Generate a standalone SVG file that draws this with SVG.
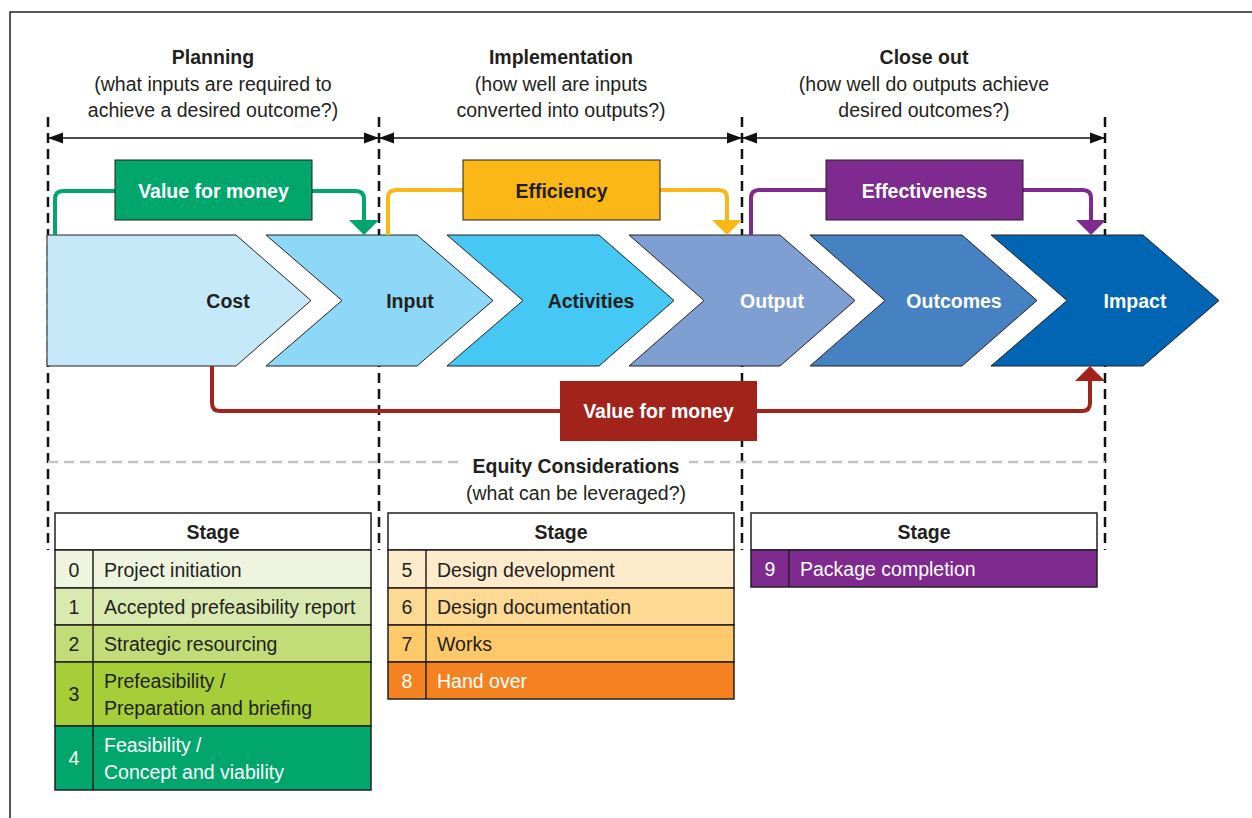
<svg xmlns="http://www.w3.org/2000/svg" width="1252" height="818" viewBox="0 0 1252 818">
<style>
text{font-family:"Liberation Sans",Arial,sans-serif;fill:#231f20}
.t{font-size:19.5px;text-anchor:middle}
.b{font-weight:bold;font-size:19.5px;text-anchor:middle}
.w{fill:#fff}
.cell{font-size:19.5px}
.num{font-size:19.5px;text-anchor:middle}
.vd{stroke:#111;stroke-width:2.5;stroke-dasharray:10 6;fill:none}
.chev{stroke:#231f20;stroke-width:1}
.row{stroke:#231f20;stroke-width:1.5}
.conn{fill:none;stroke-width:4}
</style>
<defs>
<marker id="ah" markerUnits="userSpaceOnUse" markerWidth="16" markerHeight="12" refX="15" refY="6" orient="auto-start-reverse"><path d="M0,0.5 L15,6 L0,11.5 z" fill="#111"/></marker>
<marker id="mg" markerUnits="userSpaceOnUse" markerWidth="16" markerHeight="30" refX="2" refY="15" orient="auto"><path d="M0,0 L15,15 L0,30 z" fill="#00a66c"/></marker>
<marker id="my" markerUnits="userSpaceOnUse" markerWidth="16" markerHeight="30" refX="2" refY="15" orient="auto"><path d="M0,0 L15,15 L0,30 z" fill="#fbb715"/></marker>
<marker id="mp" markerUnits="userSpaceOnUse" markerWidth="16" markerHeight="30" refX="2" refY="15" orient="auto"><path d="M0,0 L15,15 L0,30 z" fill="#7f2a8e"/></marker>
<marker id="mr" markerUnits="userSpaceOnUse" markerWidth="16" markerHeight="30" refX="2" refY="15" orient="auto"><path d="M0,0 L15,15 L0,30 z" fill="#a2231a"/></marker>
</defs>
<rect width="1252" height="818" fill="#fff"/>
<path d="M10,818 V12 H1252" fill="none" stroke="#231f20" stroke-width="1.5"/>

<g id="phases">
<text class="b" x="213" y="64">Planning</text>
<text class="t" x="213" y="91">(what inputs are required to</text>
<text class="t" x="213" y="117">achieve a desired outcome?)</text>
<text class="b" x="561" y="64">Implementation</text>
<text class="t" x="561" y="91">(how well are inputs</text>
<text class="t" x="561" y="117">converted into outputs?)</text>
<text class="b" x="924" y="64">Close out</text>
<text class="t" x="924" y="91">(how well do outputs achieve</text>
<text class="t" x="924" y="117">desired outcomes?)</text>
</g>

<g id="guides">
<path class="vd" d="M48,117 V550 M379,117 V550 M742,117 V550 M1105,117 V550"/>
<path d="M48,462 H1105" stroke="#c4c4c4" stroke-width="2.5" stroke-dasharray="10 6" fill="none"/>
<g stroke="#111" stroke-width="1.5" fill="none">
<path d="M48,138 H379" marker-start="url(#ah)" marker-end="url(#ah)"/>
<path d="M379,138 H742" marker-start="url(#ah)" marker-end="url(#ah)"/>
<path d="M742,138 H1105" marker-start="url(#ah)" marker-end="url(#ah)"/>
</g>
</g>

<g id="cost"><path class="chev" d="M47,235 H236 L311,300.5 L236,366 H47 Z" fill="#c6e9f9"/><text class="b" x="228" y="308">Cost</text></g>
<g id="input"><path class="chev" d="M266,235 H417 L493,300.5 L417,366 H266 L342,300.5 Z" fill="#8dd8f6"/><text class="b" x="410" y="308">Input</text></g>
<g id="activities"><path class="chev" d="M447,235 H599 L674,300.5 L599,366 H447 L523,300.5 Z" fill="#45c8f3"/><text class="b" x="591" y="308">Activities</text></g>
<g id="output"><path class="chev" d="M629,235 H780 L855,300.5 L780,366 H629 L704,300.5 Z" fill="#7f9fd3"/><text class="b w" x="772" y="308">Output</text></g>
<g id="outcomes"><path class="chev" d="M810,235 H962 L1037,300.5 L962,366 H810 L885,300.5 Z" fill="#4681c1"/><text class="b w" x="954" y="308">Outcomes</text></g>
<g id="impact"><path class="chev" d="M991,235 H1143 L1219,300.5 L1143,366 H991 L1067,300.5 Z" fill="#0066b3"/><text class="b w" x="1135" y="308">Impact</text></g>

<g id="connectors">
<path class="conn" stroke="#00a66c" d="M55,235 V199 Q55,191 63,191 H356 Q364,191 364,199 V222" marker-end="url(#mg)"/>
<path class="conn" stroke="#fbb715" d="M388,235 V198 Q388,190 396,190 H719 Q727,190 727,198 V222" marker-end="url(#my)"/>
<path class="conn" stroke="#7f2a8e" d="M751,235 V198 Q751,190 759,190 H1083 Q1091,190 1091,198 V222" marker-end="url(#mp)"/>
<path class="conn" stroke="#a2231a" d="M212,366 V403 Q212,411 220,411 H1082 Q1090,411 1090,403 V379" marker-end="url(#mr)"/>
</g>

<g id="label-vfm-top"><rect x="115" y="160" width="197" height="60" fill="#00a66c" stroke="#231f20" stroke-width="1"/><text class="b w" x="213.5" y="198">Value for money</text></g>
<g id="label-efficiency"><rect x="463" y="160" width="197" height="60" fill="#fbb715" stroke="#231f20" stroke-width="1"/><text class="b" x="561.5" y="198">Efficiency</text></g>
<g id="label-effectiveness"><rect x="826" y="160" width="197" height="60" fill="#7f2a8e" stroke="#231f20" stroke-width="1"/><text class="b w" x="924.5" y="198">Effectiveness</text></g>
<g id="label-vfm-bottom"><rect x="560" y="381" width="197" height="60" fill="#a2231a"/><text class="b w" x="658.5" y="418">Value for money</text></g>

<g id="equity">
<rect x="464" y="452" width="225" height="20" fill="#fff"/>
<text class="b" x="576" y="473">Equity Considerations</text>
<text class="t" x="576" y="500">(what can be leveraged?)</text>
</g>

<g id="table-planning">
<rect class="row" x="55" y="513" width="316" height="37" fill="#fff"/>
<text class="b" x="213" y="539">Stage</text>
<rect class="row" x="55" y="550" width="316" height="38" fill="#eef4de"/>
<rect class="row" x="55" y="588" width="316" height="37" fill="#d9e9b0"/>
<rect class="row" x="55" y="625" width="316" height="37" fill="#c2dc78"/>
<rect class="row" x="55" y="662" width="316" height="64" fill="#a6ce39"/>
<rect class="row" x="55" y="726" width="316" height="64" fill="#00a66c"/>
<path class="row" d="M93,550 V790"/>
<text class="num" x="74" y="577">0</text><text class="cell" x="104" y="577">Project initiation</text>
<text class="num" x="74" y="614">1</text><text class="cell" x="104" y="614">Accepted prefeasibility report</text>
<text class="num" x="74" y="651">2</text><text class="cell" x="104" y="651">Strategic resourcing</text>
<text class="num" x="74" y="701">3</text><text class="cell" x="104" y="688">Prefeasibility /</text><text class="cell" x="104" y="715">Preparation and briefing</text>
<text class="num w" x="74" y="765">4</text><text class="cell w" x="104" y="752">Feasibility /</text><text class="cell w" x="104" y="779">Concept and viability</text>
</g>

<g id="table-implementation">
<rect class="row" x="388" y="513" width="346" height="37" fill="#fff"/>
<text class="b" x="561" y="539">Stage</text>
<rect class="row" x="388" y="550" width="346" height="38" fill="#feebcb"/>
<rect class="row" x="388" y="588" width="346" height="37" fill="#fed994"/>
<rect class="row" x="388" y="625" width="346" height="37" fill="#fdc96b"/>
<rect class="row" x="388" y="662" width="346" height="37" fill="#f58220"/>
<path class="row" d="M426,550 V699"/>
<text class="num" x="407" y="577">5</text><text class="cell" x="437" y="577">Design development</text>
<text class="num" x="407" y="614">6</text><text class="cell" x="437" y="614">Design documentation</text>
<text class="num" x="407" y="651">7</text><text class="cell" x="437" y="651">Works</text>
<text class="num w" x="407" y="688">8</text><text class="cell w" x="437" y="688">Hand over</text>
</g>

<g id="table-closeout">
<rect class="row" x="751" y="513" width="346" height="37" fill="#fff"/>
<text class="b" x="924" y="539">Stage</text>
<rect class="row" x="751" y="550" width="346" height="37" fill="#7f2a8e"/>
<path class="row" d="M789,550 V587"/>
<text class="num w" x="770" y="576">9</text><text class="cell w" x="800" y="576">Package completion</text>
</g>
</svg>
